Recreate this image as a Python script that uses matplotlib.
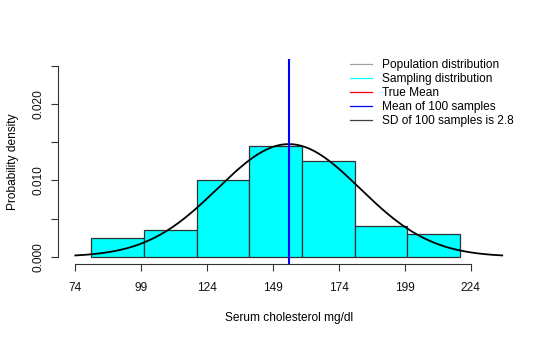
import numpy as np
import matplotlib
matplotlib.use("Agg")
import matplotlib.pyplot as plt
from matplotlib.lines import Line2D

# histogram of 100 sampled cholesterol values (density scale)
bin_edges = [80, 100, 120, 140, 160, 180, 200, 220]
bin_density = [0.0025, 0.0035, 0.0100, 0.0145, 0.0125, 0.0040, 0.0030]

# fitted normal curve parameters and sample mean line
curve_mean = 155.0
curve_sd = 27.0
sample_mean = 155.0

x_ticks = [74, 99, 124, 149, 174, 199, 224]
y_ticks = [0.0, 0.005, 0.010, 0.015, 0.020, 0.025]
y_ticklabels = ["0.000", "", "0.010", "", "0.020", ""]

legend_labels = ["Population distribution", "Sampling distribution", "True Mean",
                 "Mean of 100 samples", "SD of 100 samples is 2.8"]
legend_colors = ["#a0a0a0", "cyan", "red", "blue", "#404040"]

plt.rcParams["font.family"] = ["Liberation Sans", "DejaVu Sans"]
plt.rcParams["font.size"] = 8.6

W, H = 550, 338
fig = plt.figure(figsize=(W / 100, H / 100), dpi=100)
ax = fig.add_axes([58.3 / W, 1 - 264.3 / H, 461 / W, (264.3 - 58.6) / H])

widths = np.diff(bin_edges)
ax.bar(bin_edges[:-1], bin_density, width=widths, align="edge",
       color="cyan", edgecolor="#303030", linewidth=0.9, zorder=2)

xs = np.linspace(curve_mean - 3 * curve_sd, curve_mean + 3 * curve_sd, 300)
pdf = np.exp(-0.5 * ((xs - curve_mean) / curve_sd) ** 2) / (curve_sd * np.sqrt(2 * np.pi))
ax.plot(xs, pdf, color="black", linewidth=1.3, zorder=3)

ax.axvline(sample_mean, color="blue", linewidth=1.5, zorder=4)

lo, hi = curve_mean - 3 * curve_sd, curve_mean + 3 * curve_sd
pad = 0.04 * (hi - lo)
ax.set_xlim(lo - pad, hi + pad)
ax.set_ylim(-0.001, 0.026)

for s in ["top", "right"]:
    ax.spines[s].set_visible(False)
ax.spines["left"].set_bounds(0, 0.025)
ax.spines["bottom"].set_bounds(74, 224)
for s in ["left", "bottom"]:
    ax.spines[s].set_color("#333333")
    ax.spines[s].set_linewidth(0.8)

ax.set_xticks(x_ticks)
ax.set_yticks(y_ticks)
ax.set_yticklabels(y_ticklabels, rotation=90, va="center")
ax.tick_params(axis="both", length=5, width=0.8, color="#333333", labelcolor="#111111")
ax.tick_params(axis="x", pad=8)
ax.tick_params(axis="y", pad=5)

ax.set_xlabel("Serum cholesterol mg/dl", labelpad=13)
ax.set_ylabel("Probability density", labelpad=10)

handles = [Line2D([], [], color=c, linewidth=0.9) for c in legend_colors]
ax.legend(handles, legend_labels, loc="upper left",
          bbox_to_anchor=(350 / W, 1 - 59 / H), bbox_transform=fig.transFigure,
          frameon=False, borderpad=0, borderaxespad=0, handlelength=1.85,
          handletextpad=0.85, labelspacing=0.17)

fig.savefig("out.png", dpi=100)
